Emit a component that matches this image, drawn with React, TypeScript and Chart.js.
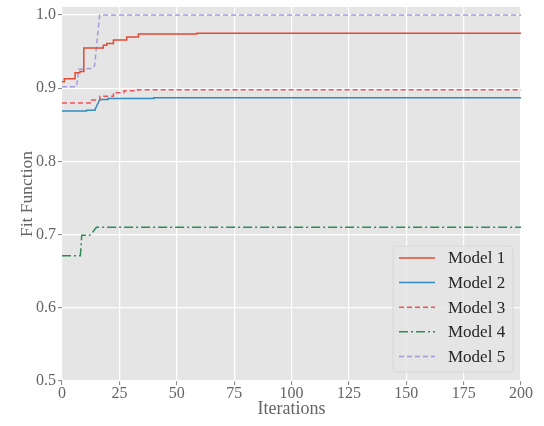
import React, { useEffect, useRef } from "react";
import { Chart, registerables } from "chart.js";

Chart.register(...registerables);

const xTicks = [0, 25, 50, 75, 100, 125, 150, 175, 200];
const yTicks = [0.5, 0.6, 0.7, 0.8, 0.9, 1.0];

const modelNames = ["Model 1", "Model 2", "Model 3", "Model 4", "Model 5"];

const model1Iter = [0, 1, 1, 5.7, 5.7, 7.8, 7.8, 9.3, 9.5, 18, 18, 19.5, 19.5, 22.4, 22.4, 28.2, 28.2, 33.3, 33.3, 58.7, 58.7, 200];
const model1Fit = [0.909, 0.909, 0.913, 0.913, 0.921, 0.921, 0.923, 0.923, 0.955, 0.955, 0.9587, 0.9587, 0.961, 0.961, 0.966, 0.966, 0.970, 0.970, 0.974, 0.974, 0.975, 0.975];

const model2Iter = [0, 10.7, 10.7, 14.4, 14.4, 16.5, 20, 20, 40, 40, 200];
const model2Fit = [0.869, 0.869, 0.870, 0.870, 0.871, 0.8846, 0.8846, 0.886, 0.886, 0.887, 0.887];

const model3Iter = [0, 12.2, 12.2, 16.5, 16.5, 22.4, 22.4, 27, 27, 33, 33, 200];
const model3Fit = [0.8797, 0.8797, 0.8838, 0.8838, 0.889, 0.889, 0.894, 0.894, 0.8965, 0.8965, 0.898, 0.898];

const model4Iter = [0, 8, 8.6, 12, 13.5, 15, 200];
const model4Fit = [0.671, 0.671, 0.699, 0.699, 0.704, 0.710, 0.710];

const model5Iter = [0, 6.3, 7.3, 13.5, 14.2, 16.4, 200];
const model5Fit = [0.902, 0.902, 0.926, 0.927, 0.931, 1.0, 1.0];

const colors = ["#E24A33", "#348ABD", "#F2525A", "#2E8B57", "#A29CD6"];
const dashes: number[][] = [[], [], [5, 3], [9, 3, 2, 3], [5, 3]];

const FONT = "'Liberation Serif', 'Times New Roman', serif";
const TEXT = "#656565";

function toPoints(xs: number[], ys: number[]) {
  return xs.map((x, i) => ({ x, y: ys[i] }));
}

export default function App() {
  const ref = useRef<HTMLCanvasElement | null>(null);

  useEffect(() => {
    if (!ref.current) return;
    const series = [
      toPoints(model1Iter, model1Fit),
      toPoints(model2Iter, model2Fit),
      toPoints(model3Iter, model3Fit),
      toPoints(model4Iter, model4Fit),
      toPoints(model5Iter, model5Fit),
    ];

    const bgPlugin = {
      id: "bg",
      beforeDraw(chart: any) {
        const { ctx, chartArea } = chart;
        ctx.save();
        ctx.fillStyle = "#E5E5E5";
        ctx.fillRect(chartArea.left, chartArea.top, chartArea.right - chartArea.left, chartArea.bottom - chartArea.top);
        ctx.restore();
      },
    };

    const legendPlugin = {
      id: "customLegend",
      afterDraw(chart: any) {
        const { ctx, chartArea } = chart;
        const w = 120;
        const h = 126;
        const x0 = chartArea.right - 8 - w;
        const y0 = chartArea.bottom - 9 - h;
        ctx.save();
        ctx.beginPath();
        const r = 4;
        ctx.moveTo(x0 + r, y0);
        ctx.lineTo(x0 + w - r, y0);
        ctx.quadraticCurveTo(x0 + w, y0, x0 + w, y0 + r);
        ctx.lineTo(x0 + w, y0 + h - r);
        ctx.quadraticCurveTo(x0 + w, y0 + h, x0 + w - r, y0 + h);
        ctx.lineTo(x0 + r, y0 + h);
        ctx.quadraticCurveTo(x0, y0 + h, x0, y0 + h - r);
        ctx.lineTo(x0, y0 + r);
        ctx.quadraticCurveTo(x0, y0, x0 + r, y0);
        ctx.closePath();
        ctx.fillStyle = "rgba(229,229,229,0.85)";
        ctx.fill();
        ctx.strokeStyle = "#D8D8D8";
        ctx.lineWidth = 1;
        ctx.stroke();
        ctx.font = "17px " + FONT;
        ctx.textBaseline = "middle";
        ctx.textAlign = "left";
        for (let i = 0; i < modelNames.length; i++) {
          const cy = y0 + 12 + i * 24.6;
          ctx.beginPath();
          ctx.setLineDash(dashes[i]);
          ctx.strokeStyle = colors[i];
          ctx.lineWidth = 1.5;
          ctx.moveTo(x0 + 6, cy);
          ctx.lineTo(x0 + 42, cy);
          ctx.stroke();
          ctx.setLineDash([]);
          ctx.fillStyle = "#262626";
          ctx.fillText(modelNames[i], x0 + 55, cy + 1);
        }
        ctx.restore();
      },
    };

    const chart = new Chart(ref.current, {
      type: "line",
      data: {
        datasets: series.map((d, i) => ({
          label: modelNames[i],
          data: d,
          borderColor: colors[i],
          backgroundColor: colors[i],
          borderWidth: 1.5,
          borderDash: dashes[i],
          pointRadius: 0,
          fill: false,
          tension: 0,
        })),
      },
      options: {
        animation: false,
        responsive: false,
        parsing: true,
        layout: { padding: { top: 7, right: 23, left: 0, bottom: 0 } },
        plugins: {
          legend: { display: false },
          tooltip: { enabled: false },
        },
        scales: {
          x: {
            type: "linear",
            min: 0,
            max: 200,
            afterBuildTicks(scale: any) {
              scale.ticks = xTicks.map((v) => ({ value: v }));
            },
            afterFit(scale: any) {
              scale.height = 45;
              scale.paddingLeft = 0;
              scale.paddingRight = 0;
            },
            border: { display: false },
            grid: { color: "#FFFFFF", lineWidth: 1.2, tickLength: 4, tickColor: "#808080", tickWidth: 1 },
            ticks: { autoSkip: false, maxRotation: 0, color: TEXT, padding: -1, font: { family: FONT, size: 16 } },
            title: { display: true, text: "Iterations", color: TEXT, padding: { top: 0, bottom: 6 }, font: { family: FONT, size: 18 } },
          },
          y: {
            type: "linear",
            min: 0.5,
            max: 1.011,
            afterBuildTicks(scale: any) {
              scale.ticks = yTicks.map((v) => ({ value: v }));
            },
            afterFit(scale: any) {
              scale.width = 62;
              scale.paddingTop = 0;
              scale.paddingBottom = 0;
            },
            border: { display: false },
            grid: { color: "#FFFFFF", lineWidth: 1.2, tickLength: 4, tickColor: "#808080", tickWidth: 1 },
            ticks: {
              autoSkip: false,
              color: TEXT,
              padding: 2,
              font: { family: FONT, size: 16 },
              callback: (v: any) => Number(v).toFixed(1),
            },
            title: { display: true, text: "Fit Function", color: TEXT, padding: { top: 17, bottom: 0 }, font: { family: FONT, size: 17.5 } },
          },
        },
      },
      plugins: [bgPlugin, legendPlugin],
    } as any);
    return () => chart.destroy();
  }, []);

  return (
    <div style={{ position: "absolute", left: 0, top: 0, width: 544, height: 426 }}>
      <canvas ref={ref} width={544} height={426} style={{ display: "block", width: 544, height: 426 }} />
    </div>
  );
}
